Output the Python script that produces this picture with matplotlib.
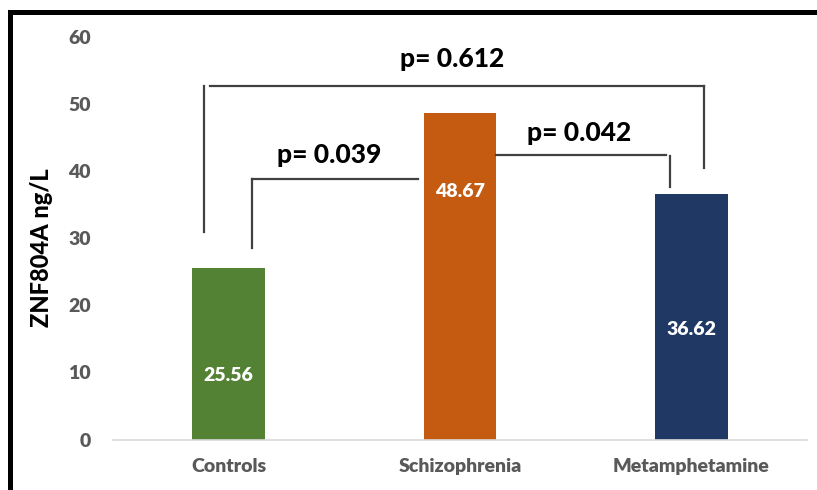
import matplotlib
matplotlib.use("Agg")
import matplotlib.pyplot as plt
from matplotlib.patches import Rectangle

categories = ["Controls", "Schizophrenia", "Metamphetamine"]
values = [25.56, 48.67, 36.62]
value_labels = ["25.56", "48.67", "36.62"]
p_labels = ["p= 0.039", "p= 0.042", "p= 0.612"]
y_ticks = [0, 10, 20, 30, 40, 50, 60]

colors = ["#548235", "#C55A11", "#203864"]
label_y = [9.5, 36.9, 16.45]

FONT = "Lato"
plt.rcParams["font.family"] = [FONT, "DejaVu Sans"]

fig = plt.figure(figsize=(8.17, 4.9), dpi=100)
ax = fig.add_axes([113 / 817, 1 - 439.5 / 490, 694 / 817, 402.9 / 490])

x = list(range(len(categories)))
ax.bar(x, values, width=0.314, color=colors, edgecolor="none", zorder=2)
for xi, ly, lab in zip(x, label_y, value_labels):
    ax.text(xi, ly, lab, ha="center", va="center", color="white",
            fontsize=14, fontweight="heavy")

ax.set_xlim(-0.5, 2.5)
ax.set_ylim(0, 60)
ax.set_yticks(y_ticks)
ax.set_yticklabels([str(t) for t in y_ticks])
ax.set_xticks(x)
ax.set_xticklabels(categories)
for s in ["top", "right", "left"]:
    ax.spines[s].set_visible(False)
ax.spines["bottom"].set_color("#d9d9d9")
ax.spines["bottom"].set_linewidth(1.2)
ax.tick_params(axis="y", length=0, pad=16, labelsize=14, labelcolor="#595959")
ax.tick_params(axis="x", length=0, pad=13, labelsize=14, labelcolor="#595959")
for t in ax.get_xticklabels() + ax.get_yticklabels():
    t.set_fontweight("heavy")

ax.set_ylabel("ZNF804A ng/L", fontsize=17, fontweight="black", color="black", va="center")
ax.yaxis.set_label_coords(-0.1037, 0.475)

lc = "#404040"
lw = 1.6
# p=0.612 bracket
ax.plot([-0.1045, -0.1045], [30.87, 52.67], color=lc, lw=lw, clip_on=False)
ax.plot([-0.079, 2.053], [52.67, 52.67], color=lc, lw=lw, clip_on=False)
ax.plot([2.053, 2.053], [52.67, 40.36], color=lc, lw=lw, clip_on=False)
# p=0.039 bracket
ax.plot([0.103, 0.103], [28.56, 38.72], color=lc, lw=lw)
ax.plot([0.103, 0.820], [38.72, 38.72], color=lc, lw=lw)
# p=0.042 bracket
ax.plot([1.157, 1.889], [42.41, 42.41], color=lc, lw=lw)
ax.plot([1.907, 1.907], [42.16, 37.65], color=lc, lw=lw)

p_pos = [(0.436, 41.13), (1.517, 44.45), (0.968, 55.47)]
for (px, py), lab in zip(p_pos, p_labels):
    ax.text(px, py, lab, ha="center", va="baseline", fontsize=19,
            fontweight="black", color="black")

fig.patches.append(Rectangle((10 / 817, -0.2), 2, 1.2 - 12.5 / 490,
                             transform=fig.transFigure, fill=False,
                             edgecolor="black", linewidth=3.6))

fig.savefig("out.png", dpi=100, facecolor="white")
